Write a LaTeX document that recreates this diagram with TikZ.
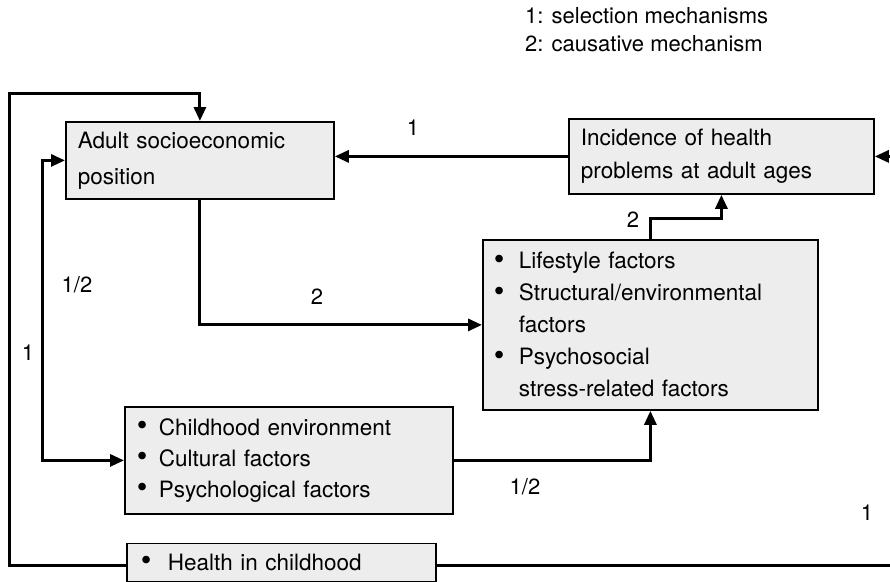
\documentclass[tikz,border=0pt]{standalone}
\usepackage{fontspec}
\setmainfont{TeX Gyre Heros}
\usetikzlibrary{arrows.meta}
% bullet lines inside the boxes
\newcommand\bitem[2]{\makebox[#1][l]{\raisebox{-0.5pt}{\scalebox{1.35}{\textbullet}}}#2}
\newcommand\bcont[2]{\hspace*{#1}#2}
\begin{document}
\begin{tikzpicture}[x=1pt,y=-1pt,
  box/.style={draw=black, line width=1.8pt, fill=black!7, anchor=north west,
    align=left, inner ysep=0pt},
  conn/.style={line width=3pt, -{Triangle[length=14pt,width=12pt]}},
  connboth/.style={line width=3pt, {Triangle[length=14pt,width=12pt]}-{Triangle[length=14pt,width=12pt]}},
  lbl/.style={font=\fontsize{22}{26}\selectfont, inner sep=0pt}]
\useasboundingbox (0,0) rectangle (890,581);
\begin{scope}
\clip (0,0) rectangle (890,581);

% legend
\node[lbl, anchor=west] (leg1) at (525,16) {1: selection mechanisms};
\node[lbl, anchor=west] (leg2) at (525,44) {2: causative mechanism};

% boxes
\node[box, minimum width=268, minimum height=77, inner xsep=12, text width=244,
  font=\fontsize{22.5}{36}\selectfont] (adult) at (65,121)
  {Adult socioeconomic\\position};
\node[box, minimum width=305, minimum height=75, inner xsep=12, text width=281,
  font=\fontsize{22.5}{33}\selectfont] (inc) at (568,118)
  {Incidence of health\\problems at adult ages};
\node[box, minimum width=335, minimum height=170, inner xsep=11, text width=313,
  font=\fontsize{22.5}{32}\selectfont] (life) at (482,239)
  {\bitem{25pt}{Lifestyle factors}\\
   \bitem{25pt}{Structural/environmental}\\
   \bcont{25pt}{factors}\\
   \bitem{25pt}{Psychosocial}\\
   \bcont{25pt}{stress-related factors}};
\node[box, minimum width=328, minimum height=107, inner xsep=12, text width=304,
  font=\fontsize{22.5}{31}\selectfont] (child) at (124,406)
  {\bitem{22pt}{Childhood environment}\\
   \bitem{22pt}{Cultural factors}\\
   \bitem{22pt}{Psychological factors}};
\node[box, minimum width=309, minimum height=38, inner xsep=14, text width=281,
  font=\fontsize{22.5}{31}\selectfont] (health) at (126,542.5)
  {\bitem{27pt}{Health in childhood}};

% turning points of the long loops
\coordinate (topleft) at (9,93);
\coordinate (innerx) at (42,0);
\coordinate (offright) at (905,0);
\coordinate (lowy) at (0,565);

% connectors
\draw[conn] (inc.west) -- (inc.west -| adult.east);
\draw[conn] (health.west |- lowy) -| (topleft) -| (adult.north);
\draw[connboth] (adult.west) -- (adult.west -| innerx) -- (child.west -| innerx) -- (child.west);
\draw[conn] (adult.south) |- (life.west);
\draw[conn] (life.north) -- ++(0,-21) -| (inc.south);
\draw[conn] (child.east) -| (life.south);
\draw[conn] (health.east |- lowy) -- (offright |- lowy) -- (inc.east -| offright) -- (inc.east);

% mechanism labels
\node[lbl] (m1) at (413,128) {1};
\node[lbl] (m2) at (317,297) {2};
\node[lbl] (m3) at (77,285) {1/2};
\node[lbl] (m4) at (28,353) {1};
\node[lbl] (m5) at (633,220) {2};
\node[lbl] (m6) at (525,487) {1/2};
\node[lbl] (m7) at (867,513) {1};
\end{scope}
\end{tikzpicture}
\end{document}
